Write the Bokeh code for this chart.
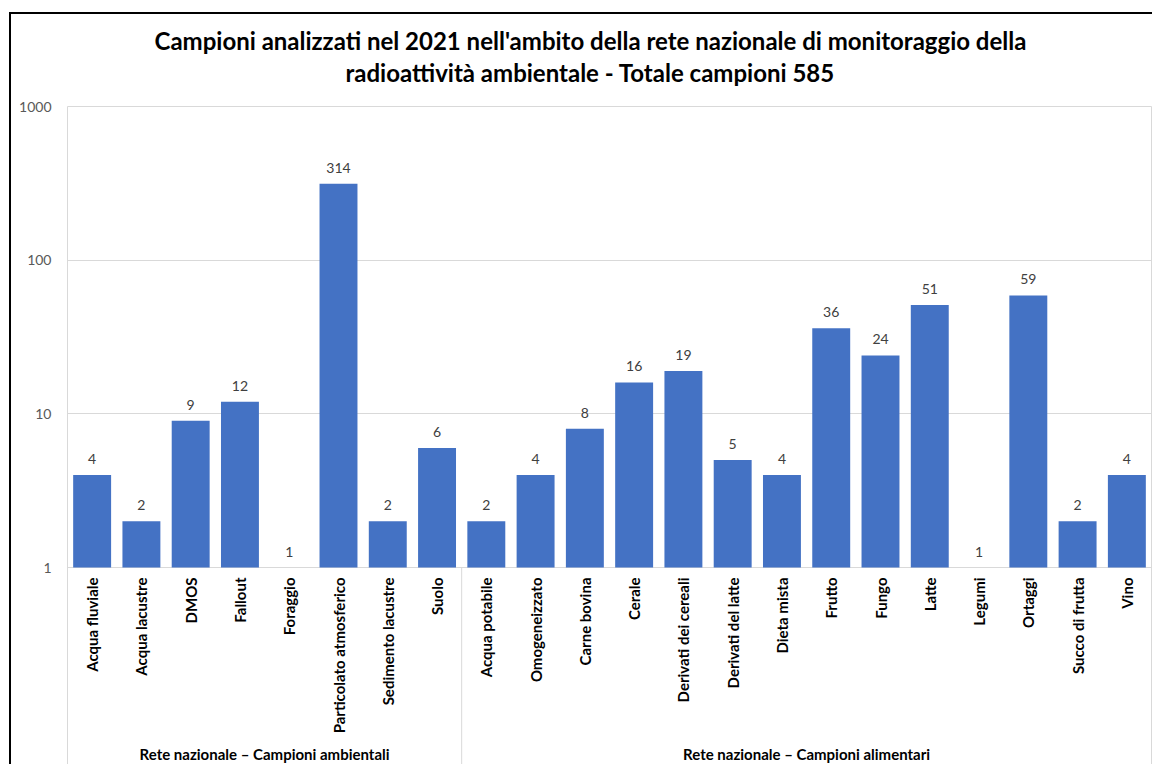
import math
from bokeh.plotting import figure
from bokeh.models import ColumnDataSource, Range1d, FixedTicker, Title
from bokeh.core.properties import value
from bokeh.embed import file_html
from bokeh.resources import INLINE

# Samples analysed in 2021 by the national environmental radioactivity network
amb_categories = ["Acqua fluviale", "Acqua lacustre", "DMOS", "Fallout", "Foraggio",
                  "Particolato atmosferico", "Sedimento lacustre", "Suolo"]
amb_values = [4, 2, 9, 12, 1, 314, 2, 6]

ali_categories = ["Acqua potabile", "Omogeneizzato", "Carne bovina", "Cerale",
                  "Derivati dei cereali", "Derivati del latte", "Dieta mista", "Frutto",
                  "Fungo", "Latte", "Legumi", "Ortaggi", "Succo di frutta", "Vino"]
ali_values = [2, 4, 8, 16, 19, 5, 4, 36, 24, 51, 1, 59, 2, 4]

group_labels = ["Rete nazionale \u2013 Campioni ambientali",
                "Rete nazionale \u2013 Campioni alimentari"]
y_ticks = [1, 10, 100, 1000]

title_lines = ["Campioni analizzati nel 2021 nell'ambito della rete nazionale di monitoraggio della",
               "radioattivit\u00e0 ambientale - Totale campioni 585"]

FONT = "Lato"
BAR = "#4472C4"
GRID = "#D9D9D9"

categories = amb_categories + ali_categories
values = amb_values + ali_values
n = len(categories)
xs = [i + 0.5 for i in range(n)]

# the frame runs down to the bottom of the page so the category block sits inside it
y_start = 0.0507

src = ColumnDataSource(dict(x=xs, v=values, cat=categories,
                            lbl=[str(v) for v in values]))

W, H = 1143, 752
p = figure(width=W, height=H, y_axis_type="log",
           x_range=Range1d(0, n), y_range=Range1d(y_start, 1000),
           output_backend="svg", toolbar_location=None, title=None,
           min_border_left=56, min_border_right=3, min_border_top=92, min_border_bottom=0)
p.styles = {"margin-left": "9px", "margin-top": "12px",
            "border-left": "2px solid black", "border-top": "2px solid black"}

# heading: a thin gap panel next to the frame, then the two lines stacked above it
p.add_layout(Title(text=" ", text_font_size="1px", standoff=17), "above")
for line, off, stand in [(title_lines[1], 278, 0), (title_lines[0], 87, 2)]:
    p.add_layout(Title(text=line, align="left", offset=off, standoff=stand,
                       text_font=FONT, text_font_size="24px", text_font_style="bold",
                       text_color="#000000"), "above")

p.xaxis.visible = False
p.xgrid.visible = False
p.ygrid.ticker = FixedTicker(ticks=y_ticks)
p.ygrid.grid_line_color = GRID
p.outline_line_color = GRID
p.outline_line_width = 1

ax = p.yaxis[0]
ax.ticker = FixedTicker(ticks=y_ticks)
ax.axis_line_color = None
ax.major_tick_line_color = None
ax.minor_tick_line_color = None
ax.major_label_standoff = 10
ax.major_label_text_font = FONT
ax.major_label_text_font_size = "14px"
ax.major_label_text_color = "#595959"
ax.major_label_overrides = {t: str(t) for t in y_ticks}

p.vbar(x="x", width=0.77, bottom=1, top="v", source=src, color=BAR, line_color=None)

# value labels above the bars
p.text(x="x", y="v", text="lbl", source=src, text_align="center", text_baseline="bottom",
       y_offset=-11, text_font=value(FONT), text_font_size="14px", text_color="#404040")

# rotated category names below the baseline
p.text(x="x", y=1, text="cat", source=src, angle=math.pi / 2, text_align="right",
       text_baseline="middle", y_offset=10, text_font=value(FONT),
       text_font_size="15px", text_font_style="bold", text_color="#000000")

# separator between the two groups
split = len(amb_categories)
p.segment(x0=split, y0=1, x1=split, y1=y_start, line_color=GRID, line_width=1)

group_src = ColumnDataSource(dict(x=[split / 2, split + len(ali_categories) / 2],
                                  y=[1, 1], t=group_labels))
p.text(x="x", y="y", text="t", source=group_src, text_align="center",
       text_baseline="middle", y_offset=186, text_font=value(FONT),
       text_font_size="15px", text_font_style="bold", text_color="#000000")

open("out.html", "w").write(file_html(p, INLINE))
